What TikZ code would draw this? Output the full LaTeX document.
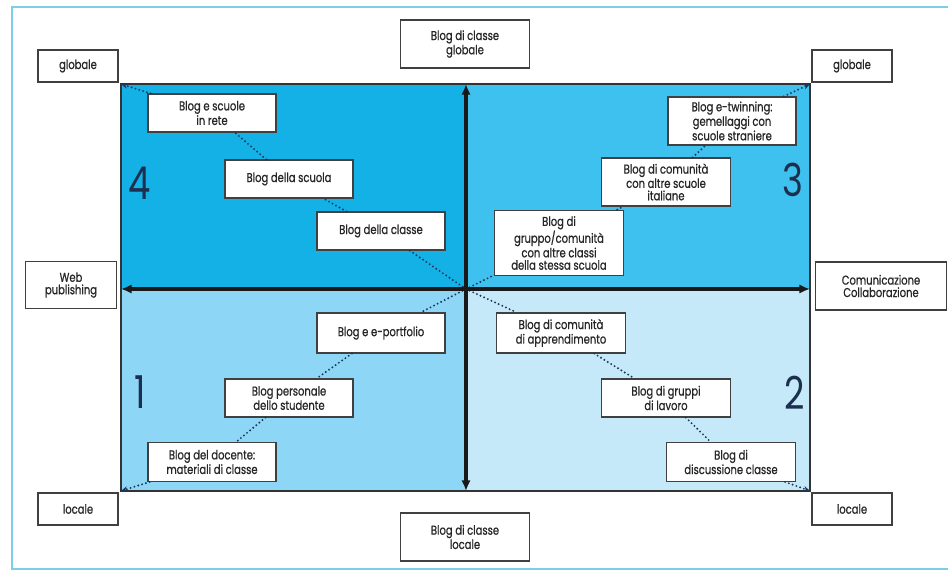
\documentclass[tikz,border=0pt]{standalone}
\usepackage{fontspec}
\setmainfont{Poppins}[FakeStretch=0.78]
\newfontfamily\boxfont{Poppins}[FakeStretch=0.78,FakeBold=0.7]
\usetikzlibrary{arrows.meta}

\definecolor{quadfour}{HTML}{14B1E7}
\definecolor{quadthree}{HTML}{3EC1EE}
\definecolor{quadone}{HTML}{8DD6F6}
\definecolor{quadtwo}{HTML}{C6E9FA}
\definecolor{framecol}{HTML}{7CCDEB}
\definecolor{dotcol}{HTML}{1D3557}
\definecolor{numcol}{HTML}{1C2F4F}

\tikzset{
    blogbox/.style={draw=black!75, line width=0.8pt, fill=white, align=center,
        inner sep=1pt, text=black!85, font=\boxfont\fontsize{9.6}{9.3}\selectfont},
    dotline/.style={draw=dotcol, line width=1.6pt, line cap=round,
        dash pattern=on 0pt off 3pt},
    axisline/.style={line width=3pt, draw=black!90,
        {Latex[length=8pt,width=7pt]}-{Latex[length=8pt,width=7pt]}},
    quadnum/.style={text=numcol, font=\fontsize{34}{34}\selectfont}
}

\begin{document}
\begin{tikzpicture}[x=0.75pt,y=-0.75pt]

        \useasboundingbox (0,0) rectangle (948,571);

        % outer frame
        \draw[framecol, line width=1.5pt] (952,7) -- (12,7) -- (12,569) -- (952,569);

        % quadrants
        \fill[quadfour]  (121,84)  rectangle (466,289);
        \fill[quadthree] (466,84)  rectangle (810,289);
        \fill[quadone]   (121,289) rectangle (466,491);
        \fill[quadtwo]   (466,289) rectangle (810,491);
        \draw[black!80, line width=1.3pt] (121,84) rectangle (810,491);

        \coordinate (o) at (466,289);
        \coordinate (c4) at (121,84);
        \coordinate (c3) at (810,84);
        \coordinate (c1) at (121,491);
        \coordinate (c2) at (810,491);

        \coordinate (axn) at (466,84);
        \coordinate (axs) at (466,491);
        \coordinate (axw) at (121,289);
        \coordinate (axe) at (810,289);

        \node[quadnum] (n4) at (140,183) {4};
        \node[quadnum] (n3) at (793,180) {3};
        \node[quadnum] (n1) at (140,392) {1};
        \node[quadnum] (n2) at (795,393) {2};

        % outer labels
        \node[blogbox, minimum width=60pt, minimum height=24pt] (gl) at (78,66) {globale};
        \node[blogbox, minimum width=60pt, minimum height=24pt] (gr) at (852,66) {globale};
        \node[blogbox, minimum width=60pt, minimum height=24pt] (ll) at (78,509) {locale};
        \node[blogbox, minimum width=60pt, minimum height=24pt] (lr) at (852,509) {locale};
        \node[blogbox, minimum width=97pt, minimum height=36pt] (cg) at (465,44) {Blog di classe\\globale};
        \node[blogbox, minimum width=97pt, minimum height=36pt] (cl) at (465,537) {Blog di classe\\locale};
        \node[blogbox, minimum width=68pt, minimum height=35pt] (wp) at (71,285) {Web\\publishing};
        \node[blogbox, minimum width=98pt, minimum height=36pt] (cc) at (881,286) {Comunicazione\\Collaborazione};

        % quadrant 4
        \node[blogbox, minimum width=96pt, minimum height=28.5pt] (q4a) at (212,113) {Blog e scuole\\in rete};
        \node[blogbox, minimum width=96pt, minimum height=28.5pt] (q4b) at (289,179) {Blog della scuola};
        \node[blogbox, minimum width=96pt, minimum height=28.5pt] (q4c) at (381,231) {Blog della classe};

        % quadrant 3
        \node[blogbox, minimum width=96pt, minimum height=36pt] (q3a) at (732,121) {Blog e-twinning:\\gemellaggi con\\scuole straniere};
        \node[blogbox, minimum width=97pt, minimum height=36pt] (q3b) at (666,182) {Blog di comunità\\con altre scuole\\italiane};
        \node[blogbox, minimum width=97pt, minimum height=49pt] (q3c) at (559,243) {Blog di\\gruppo/comunità\\con altre classi\\della stessa scuola};

        % quadrant 1
        \node[blogbox, minimum width=96pt, minimum height=30pt] (q1a) at (381,333) {Blog e e-portfolio};
        \node[blogbox, minimum width=96pt, minimum height=28.5pt] (q1b) at (289,398) {Blog personale\\dello studente};
        \node[blogbox, minimum width=96pt, minimum height=29pt] (q1c) at (212,462) {Blog del docente:\\materiali di classe};

        % quadrant 2
        \node[blogbox, minimum width=97pt, minimum height=30pt] (q2a) at (561,333) {Blog di comunità\\di apprendimento};
        \node[blogbox, minimum width=97pt, minimum height=28.5pt] (q2b) at (666,398) {Blog di gruppi\\di lavoro};
        \node[blogbox, minimum width=97pt, minimum height=29pt] (q2c) at (731,462) {Blog di\\discussione classe};

        % dotted chains
        \draw[dotline] (o) -- (q4c) -- (q4b) -- (q4a);
        \draw[dotline, -{Stealth[length=5pt,width=4pt]}] (q4a) -- (c4);
        \draw[dotline] (o) -- (q3c) -- (q3b) -- (q3a);
        \draw[dotline, -{Stealth[length=5pt,width=4pt]}] (q3a) -- (c3);
        \draw[dotline] (o) -- (q1a) -- (q1b) -- (q1c);
        \draw[dotline, -{Stealth[length=5pt,width=4pt]}] (q1c) -- (c1);
        \draw[dotline] (o) -- (q2a) -- (q2b) -- (q2c);
        \draw[dotline, -{Stealth[length=5pt,width=4pt]}] (q2c) -- (c2);

        % axes
        \draw[axisline] (axw) -- (axe);
        \draw[axisline] (axn) -- (axs);

    \end{tikzpicture}
\end{document}
